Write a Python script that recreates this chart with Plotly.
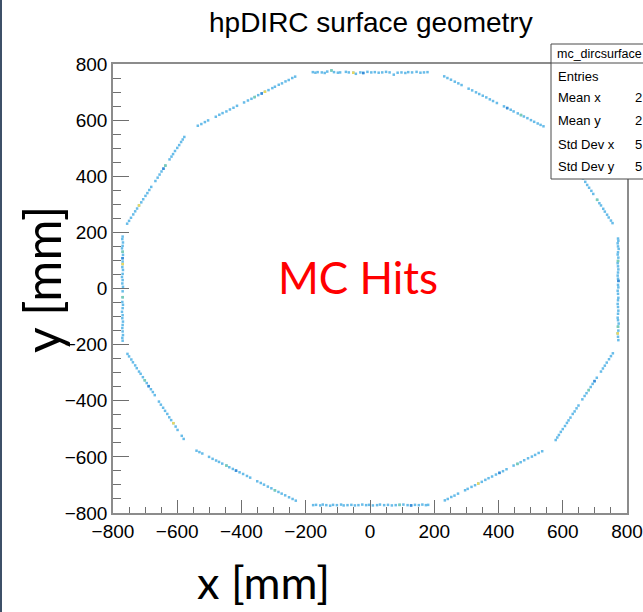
import plotly.graph_objects as go

# ---- MC hit positions on the 12 bar-box faces of the hpDIRC (mm) ----
# right face
right_x = [772, 773, 771, 772, 774, 772, 771, 773, 772, 771, 772, 773, 772, 771, 772, 774, 772,
           773, 771, 772, 773, 772, 771, 772, 773, 772, 771, 772, 774, 772, 773, 771, 772, 773]
right_y = [178, 170, 161, 150, 141, 129, 121, 110, 98, 90, 79, 68, 57, 46, 35, 27, 13, 4, -8, -19,
           -33, -42, -55, -66, -79, -90, -104, -113, -125, -136, -150, -160, -172, -184]
# upper-right faces
ur1_x = [755, 750, 743, 738, 731, 726, 719, 714, 707, 695, 689, 682, 676, 670, 663, 657, 644, 638,
         631, 625, 619, 612, 605, 599, 593, 586, 580]
ur1_y = [233, 242, 253, 263, 274, 284, 296, 304, 316, 337, 348, 359, 369, 380, 392, 403, 425, 436,
         447, 459, 469, 480, 492, 504, 514, 525, 536]
ur2_x = [540, 531, 522, 511, 501, 490, 479, 470, 460, 447, 438, 427, 417, 395, 383, 373, 362, 351,
         340, 330, 318, 307, 285, 275, 264, 252, 241, 231]
ur2_y = [578, 583, 588, 594, 600, 607, 613, 618, 624, 631, 637, 643, 649, 661, 668, 674, 681, 687,
         693, 699, 706, 712, 725, 731, 737, 744, 750, 756]
# top face
top_x = [-178, -170, -163, -150, -141, -133, -120, -112, -100, -93, -75, -66, -52, -44, -30, -21, -8,
         4, 15, 27, 38, 50, 61, 74, 86, 98, 110, 119, 131, 145, 157, 168, 179]
top_y = [771, 769, 771, 770, 768, 773, 777, 771, 769, 770, 772, 770, 769, 765, 770, 768, 772,
         770, 771, 769, 770, 772, 770, 762, 769, 770, 768, 771, 770, 772, 769, 770, 771]
# upper-left faces
ul1_x = [-233, -242, -253, -263, -274, -284, -296, -304, -316, -327, -337, -348, -359, -369, -380,
         -392, -414, -425, -436, -447, -459, -469, -480, -504, -514, -525, -536]
ul1_y = [755, 750, 743, 738, 731, 726, 719, 714, 707, 701, 695, 689, 682, 676, 670,
         663, 651, 644, 638, 631, 625, 619, 612, 599, 593, 586, 580]
ul2_x = [-578, -583, -588, -594, -600, -607, -613, -618, -624, -637, -643, -649, -655, -661, -668,
         -681, -687, -693, -699, -706, -712, -719, -725, -731, -737, -744, -750, -756]
ul2_y = [540, 531, 522, 511, 501, 490, 479, 470, 460, 438, 427, 417, 406, 395, 383,
         362, 351, 340, 330, 318, 307, 296, 285, 275, 264, 252, 241, 231]
# left face
left_x = [-770, -771, -769, -770, -772, -770, -769, -771, -770, -770, -771, -769, -770, -772, -770,
          -771, -769, -770, -770, -771, -769, -770, -772, -770, -771, -769, -770, -771, -770, -769,
          -771, -770]
left_y = [185, 176, 164, 152, 143, 131, 120, 108, 96, 87, 76, 66, 52, 41, 30, 18, 6, -10, -31, -48,
          -58, -70, -83, -95, -106, -118, -130, -141, -153, -166, -176, -186]
# lower-left faces
ll1_x = [-755, -750, -743, -738, -731, -726, -719, -714, -707, -701, -695, -689, -682, -676, -670,
         -657, -651, -644, -638, -631, -625, -619, -612, -605, -599, -586, -580]
ll1_y = [-233, -242, -253, -263, -274, -284, -296, -304, -316, -327, -337, -348, -359, -369, -380,
         -403, -414, -425, -436, -447, -459, -469, -480, -492, -504, -525, -536]
ll2_x = [-540, -531, -522, -501, -490, -479, -470, -460, -447, -438, -427, -417, -406, -395, -383,
         -373, -351, -340, -330, -318, -307, -296, -285, -275, -264, -252, -241, -231]
ll2_y = [-578, -583, -588, -600, -607, -613, -618, -624, -631, -637, -643, -649, -655, -661, -668,
         -674, -687, -693, -699, -706, -712, -719, -725, -731, -737, -744, -750, -756]
# bottom face
bottom_x = [-177, -168, -155, -147, -136, -124, -115, -103, -90, -82, -70, -58, -47, -36, -24, -12,
            -3, 9, 22, 31, 44, 56, 68, 80, 92, 104, 117, 128, 140, 152, 163, 174, 181]
bottom_y = [-772, -771, -773, -770, -772, -774, -771, -772, -770, -773, -772, -771, -773, -772,
            -770, -772, -771, -773, -772, -770, -772, -771, -773, -772, -771, -770, -772, -773,
            -771, -772, -770, -772, -771]
# lower-right faces
lr1_x = [233, 242, 253, 263, 274, 296, 304, 316, 327, 337, 348, 359, 369, 380, 392, 403, 414, 425,
         447, 459, 469, 480, 492, 504, 514, 525, 536]
lr1_y = [-755, -750, -743, -738, -731, -719, -714, -707, -701, -695, -689, -682, -676, -670, -663,
         -657, -651, -644, -631, -625, -619, -612, -605, -599, -593, -586, -580]
lr2_x = [578, 583, 588, 594, 600, 607, 613, 618, 624, 631, 637, 643, 649, 661, 668, 674, 681, 687,
         693, 699, 706, 719, 725, 731, 737, 744, 750, 756]
lr2_y = [-540, -531, -522, -511, -501, -490, -479, -470, -460, -447, -438, -427, -417, -395, -383,
         -373, -362, -351, -340, -330, -318, -296, -285, -275, -264, -252, -241, -231]

# bins holding more than one hit
dense_x = [-770, 773, -689, -417, -337, -643, 427, 403, -21, 128, 699]
dense_y = [108, 27, -348, -649, 695, 427, 643, -657, 768, -773, -330]
two_x = [-770, -770, 772, 772, -637, -701, -447, 459, 681, -359, 707, 470, -120, 92, -296]
two_y = [131, -31, 98, -136, 438, -327, -631, -625, -362, 682, 316, 618, 777, -771, -719]
three_x = [-719, -770, 771, -327, -612, -52, 337]
three_y = [296, 87, -160, 701, -480, 769, -695]

x_ticks = [-800, -600, -400, -200, 0, 200, 400, 600, 800]
y_ticks = [-800, -600, -400, -200, 0, 200, 400, 600, 800]

# statistics panel (its right part runs past the page edge)
stat_names = ["Entries", "Mean x", "Mean y", "Std Dev x", "Std Dev y"]
stat_values = ["", "2", "2", "5", "5"]

W, H = 643, 612
ROOT_FONT = "Liberation Sans, Arial, Helvetica, sans-serif"
SLIDE_FONT = "Lato, Carlito, Calibri, sans-serif"


def fx(p):
    return p / W


def fy(p):
    return 1 - p / H


faces = [(right_x, right_y), (ur1_x, ur1_y), (ur2_x, ur2_y), (top_x, top_y),
         (ul1_x, ul1_y), (ul2_x, ul2_y), (left_x, left_y), (ll1_x, ll1_y),
         (ll2_x, ll2_y), (bottom_x, bottom_y), (lr1_x, lr1_y), (lr2_x, lr2_y)]
hits_x = [v for fxs, _ in faces for v in fxs]
hits_y = [v for _, fys in faces for v in fys]

fig = go.Figure()
for xs, ys, col in [(hits_x, hits_y, "#68bce9"),
                    (dense_x, dense_y, "#3a8cd8"),
                    (two_x, two_y, "#7ccdb2"),
                    (three_x, three_y, "#eed85a")]:
    fig.add_trace(go.Scatter(
        x=xs, y=ys, mode="markers", hoverinfo="skip", showlegend=False,
        marker=dict(symbol="square", size=2.5, color=col, line=dict(width=0)),
    ))

axis_common = dict(
    range=[-800, 800], showgrid=False, zeroline=False, automargin=False,
    showline=True, linecolor="#8c8c8c", linewidth=1.5, mirror=True,
    ticks="inside", tickwidth=1, tickcolor="#6f6f6f",
    tickfont=dict(family=ROOT_FONT, size=19, color="#000000"),
)
fig.update_xaxes(
    domain=[fx(113), fx(627)], tickvals=x_ticks, ticklen=13,
    minor=dict(ticks="inside", ticklen=6, dtick=50, tickwidth=1, tickcolor="#6f6f6f"),
    **axis_common,
)
fig.update_yaxes(
    domain=[fy(513), fy(64)], tickvals=y_ticks, ticklen=16,
    minor=dict(ticks="inside", ticklen=8, dtick=50, tickwidth=1, tickcolor="#6f6f6f"),
    **axis_common,
)

shapes = [
    # slide edge strip
    dict(type="rect", xref="paper", yref="paper", x0=0, x1=fx(2), y0=0, y1=1,
         fillcolor="#3d5068", line=dict(width=0), layer="above"),
    # statistics box
    dict(type="rect", xref="paper", yref="paper", x0=fx(551), x1=fx(660), y0=fy(179), y1=fy(44),
         fillcolor="#ffffff", line=dict(color="#4a4a4a", width=1), layer="above"),
    dict(type="line", xref="paper", yref="paper", x0=fx(551), x1=fx(660), y0=fy(63), y1=fy(63),
         line=dict(color="#4a4a4a", width=1), layer="above"),
]

annotations = [
    dict(text="hpDIRC surface geometry", x=fx(371), y=fy(23), xref="paper", yref="paper",
         showarrow=False, xanchor="center", yanchor="middle",
         font=dict(family=ROOT_FONT, size=28, color="#000000")),
    dict(text="mc_dircsurface", x=fx(555), y=fy(54), xref="paper", yref="paper",
         showarrow=False, xanchor="left", yanchor="middle",
         font=dict(family=ROOT_FONT, size=12.5, color="#000000")),
    dict(text="MC Hits", x=fx(358), y=fy(277), xref="paper", yref="paper",
         showarrow=False, xanchor="center", yanchor="middle",
         font=dict(family=SLIDE_FONT, size=44, color="#ff0000")),
    dict(text="y [mm]", x=fx(42), y=fy(280), xref="paper", yref="paper", textangle=-90,
         showarrow=False, xanchor="center", yanchor="middle",
         font=dict(family=SLIDE_FONT, size=50, color="#000000")),
    dict(text="x [mm]", x=fx(263), y=fy(582), xref="paper", yref="paper",
         showarrow=False, xanchor="center", yanchor="middle",
         font=dict(family=SLIDE_FONT, size=45, color="#000000")),
]
row_y = [76, 98, 121, 144, 167]
for name, val, ry in zip(stat_names, stat_values, row_y):
    annotations.append(dict(text=name, x=fx(556), y=fy(ry), xref="paper", yref="paper",
                            showarrow=False, xanchor="left", yanchor="middle",
                            font=dict(family=ROOT_FONT, size=13, color="#000000")))
    if val:
        annotations.append(dict(text=val, x=fx(633), y=fy(ry), xref="paper", yref="paper",
                                showarrow=False, xanchor="left", yanchor="middle",
                                font=dict(family=ROOT_FONT, size=13, color="#000000")))

fig.update_layout(
    width=W, height=H, margin=dict(l=0, r=0, t=0, b=0, autoexpand=False),
    paper_bgcolor="#ffffff", plot_bgcolor="#ffffff",
    shapes=shapes, annotations=annotations, showlegend=False,
)

fig.write_html("out.html")
